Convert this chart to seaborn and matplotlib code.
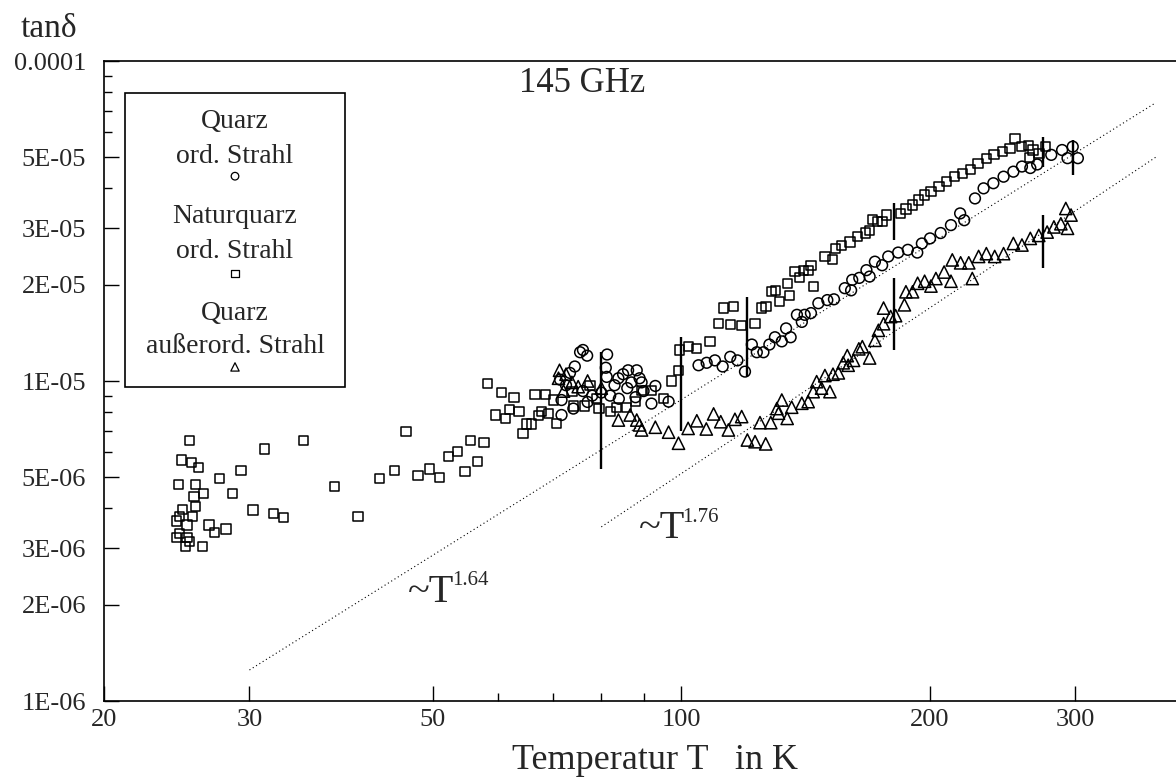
import numpy as np
import seaborn as sns
import matplotlib.pyplot as plt
from matplotlib.ticker import FixedLocator, FixedFormatter, NullFormatter
from matplotlib.patches import Rectangle

# --- Messwerte tan(delta) in Einheiten von 1E-06, T in K ---

# Quarz, ordentlicher Strahl (Kreise)
quarz_T = [75.4, 76.0, 76.9, 81.3, 74.3, 73.3, 81.0, 81.2, 83.9, 86.2,
           88.3, 89.0, 85.0, 83.0, 86.0, 87.0, 89.5, 93.0, 96.5, 71.3,
           72.5, 71.6, 71.6, 76.0, 78.0, 80.0, 82.0, 77.0, 84.0, 88.0,
           90.0, 74.0, 92.0,
           104.9, 107.3, 109.8, 112.2, 114.6, 116.9, 119.4, 121.7, 123.4, 125.7,
           127.8, 129.8, 132.3, 133.9, 135.6, 139.9, 138.0, 141.0, 143.5, 146.5,
           150.2, 153.0, 157.7, 160.5, 161.0, 164.2, 167.5, 169.0, 171.5, 175.0,
           178.0, 183.0, 188.0, 193.0, 195.5, 200.0, 206.0, 212.0, 217.5, 220.0,
           226.7, 232.2, 238.6, 245.5, 252.3, 258.4, 264.5, 269.6, 280.4, 289.0,
           293.4, 297.7, 302.0]
quarz_tan = [12.3, 12.5, 12.0, 12.1, 11.1, 10.6, 11.0, 10.3, 10.2, 10.8,
             10.8, 10.2, 10.5, 9.7, 9.5, 9.9, 9.9, 9.65, 8.62, 10.1,
             9.7, 8.72, 7.83, 9.3, 9.0, 9.2, 9.0, 8.6, 8.8, 8.9,
             9.3, 8.2, 8.5,
             11.2, 11.4, 11.6, 11.1, 11.9, 11.6, 10.7, 13.0, 12.3, 12.3,
             13.0, 13.7, 13.3, 14.6, 13.7, 15.3, 16.1, 16.1, 16.3, 17.5,
             17.9, 18.0, 19.5, 19.2, 20.7, 21.0, 22.2, 21.2, 23.6, 23.0,
             24.5, 25.2, 25.7, 25.2, 26.9, 27.9, 29.0, 30.7, 33.4, 31.8,
             37.2, 40.0, 41.5, 43.5, 45.1, 46.8, 46.3, 47.5, 50.9, 52.7,
             49.7, 54.0, 49.7]

# Naturquarz, ordentlicher Strahl (Quadrate)
natur_T = [25.4, 24.8, 25.5, 26.0, 24.6, 25.8, 27.6, 29.3, 31.3, 34.9,
           25.7, 26.4, 28.6, 38.0, 43.1, 44.9, 24.9, 25.8, 24.7, 25.6,
           24.5, 25.2, 26.8, 27.2, 28.1, 30.3, 32.1, 33.0, 40.6, 24.7,
           24.5, 25.2, 25.4, 25.1, 26.3,
           46.4, 48.0, 49.5, 51.0, 52.3, 53.6, 54.7, 55.6, 56.7, 57.7, 58.3,
           59.5, 60.6, 61.2, 62.0, 62.7, 63.6, 64.3, 65.0, 65.8, 66.5, 67.1, 67.7, 68.4, 69.0, 70.0, 70.6,
           73.7, 74.0, 76.4, 77.5, 79.0, 79.5, 82.0, 83.5, 85.9, 87.9, 89.5, 92.1, 95.1, 97.3, 99.2, 99.5,
           101.9, 104.4, 108.3, 110.8, 114.6, 118.3, 122.8, 112.4, 115.6, 125.1, 126.6, 128.6, 130.0, 131.5,
           134.4, 135.3, 137.3, 138.9, 140.5, 142.6, 144.5, 143.5, 149.2, 152.5, 153.8, 156.4, 160.0, 163.4,
           167.0, 169.0, 170.5, 172.8, 175.0, 177.0, 184.0, 187.0, 190.3, 193.6, 197.0, 200.5, 205.0, 209.5,
           214.0, 219.0, 224.0, 228.6, 234.0, 239.0, 244.5, 250.0, 253.5, 258.0, 263.0, 266.5, 271.0, 276.0, 264.0]
natur_tan = [6.5, 5.66, 5.55, 5.37, 4.75, 4.75, 4.97, 5.25, 6.13, 6.5,
             4.35, 4.46, 4.46, 4.67, 4.97, 5.26, 3.97, 4.05, 3.77, 3.77,
             3.65, 3.55, 3.55, 3.36, 3.45, 3.95, 3.85, 3.75, 3.77, 3.34,
             3.25, 3.25, 3.15, 3.04, 3.04,
             6.95, 5.08, 5.31, 5.0, 5.8, 6.01, 5.21, 6.51, 5.6, 6.42, 9.8,
             7.83, 9.2, 7.64, 8.16, 8.87, 8.05, 6.86, 7.34, 7.34, 9.1, 7.8, 8.05, 9.1, 7.93, 8.72, 7.38,
             9.26, 8.35, 8.35, 9.7, 8.83, 8.2, 8.02, 8.28, 8.28, 8.62, 9.33, 9.33, 8.83, 10.0, 10.8, 12.5,
             12.8, 12.6, 13.3, 15.1, 15.0, 14.9, 15.1, 16.9, 17.1, 16.9, 17.1, 19.0, 19.2, 17.7,
             20.2, 18.5, 22.0, 21.0, 22.2, 22.2, 19.7, 23.0, 24.5, 24.0, 26.0, 26.5, 27.2, 28.3,
             29.0, 29.6, 31.9, 31.5, 31.5, 33.0, 33.4, 34.5, 35.5, 36.8, 38.1, 39.0, 40.5, 42.0,
             43.5, 44.5, 45.7, 47.9, 49.7, 51.0, 52.1, 53.3, 57.3, 54.0, 54.5, 52.7, 51.5, 54.0, 50.0]

# Quarz, ausserordentlicher Strahl (Dreiecke)
ext_T = [71.2, 71.0, 72.5, 73.7, 72.0, 75.0, 77.0, 80.0, 83.9, 86.7,
         88.3, 89.0, 89.5, 93.0, 96.5, 99.2, 101.9, 104.4, 107.2, 109.4,
         111.6, 114.0, 116.1, 118.3, 120.2, 122.8, 126.5, 124.5, 128.3, 131.1,
         132.3, 130.5, 134.3, 136.0, 139.9, 142.4, 144.4, 145.8, 147.8, 151.3,
         149.2, 152.6, 154.9, 157.0, 158.8, 159.2, 161.6, 164.0, 165.6, 169.0,
         171.5, 173.2, 175.7, 175.7, 179.2, 181.7, 186.2, 187.0, 190.5, 193.2,
         197.0, 200.5, 203.3, 208.0, 212.8, 212.0, 217.8, 222.8, 225.0, 229.0,
         234.0, 239.5, 245.5, 252.3, 258.4, 264.5, 270.8, 277.2, 282.5, 288.0,
         292.0, 296.3, 293.4]
ext_tan = [10.8, 10.2, 10.5, 9.9, 9.3, 9.6, 10.0, 9.5, 7.55, 7.83,
           7.55, 7.29, 7.03, 7.17, 6.92, 6.39, 7.11, 7.51, 7.08, 7.89,
           7.46, 7.03, 7.59, 7.74, 6.54, 6.46, 6.36, 7.41, 7.41, 7.93,
           8.72, 8.2, 7.64, 8.28, 8.52, 8.62, 9.26, 9.95, 9.5, 9.26,
           10.4, 10.5, 10.6, 11.4, 12.0, 11.2, 11.6, 12.6, 12.8, 11.8,
           13.4, 14.4, 16.9, 15.1, 15.9, 16.0, 17.3, 19.0, 19.0, 20.2,
           20.5, 19.8, 20.9, 21.9, 23.9, 20.5, 23.4, 23.4, 20.9, 24.5,
           25.0, 24.5, 25.0, 26.9, 26.6, 27.9, 28.5, 29.2, 30.3, 31.0,
           34.6, 33.0, 30.0]

# Fehlerbalken (senkrechte Striche)
bar_T = [80, 100, 120, 181, 181, 274, 274, 298]
bar_lo = [5.3, 7.0, 10.4, 27.6, 12.5, 46.8, 22.5, 44.0]
bar_hi = [12.3, 13.7, 18.3, 35.9, 21.0, 58.0, 33.0, 56.7]

# Potenzgesetz-Geraden
fit164_T = [30, 375]
fit164_tan = [1.25, 74.0]
fit176_T = [80, 375]
fit176_tan = [3.5, 50.0]

x_ticks = [20, 30, 50, 100, 200, 300]
x_labels = ["20", "30", "50", "100", "200", "300"]
x_minor = [60, 70, 80, 90]
y_ticks = [1e-6, 2e-6, 3e-6, 5e-6, 1e-5, 2e-5, 3e-5, 5e-5, 1e-4]
y_labels = ["1E-06", "2E-06", "3E-06", "5E-06", "1E-05", "2E-05", "3E-05", "5E-05", "0.0001"]
y_minor = [4e-6, 6e-6, 7e-6, 8e-6, 9e-6, 4e-5, 6e-5, 7e-5, 8e-5, 9e-5]

sns.set_style("white")
plt.rcParams["font.family"] = ["Liberation Serif", "DejaVu Serif"]
plt.rcParams["axes.linewidth"] = 1.2

fig, ax = plt.subplots(figsize=(11.76, 7.8), dpi=100)
fig.subplots_adjust(left=104 / 1176, right=1.0, bottom=1 - 701 / 780, top=1 - 61 / 780)

E6 = 1e-6
mk = dict(facecolor="none", edgecolor="black", linewidth=1.1, ax=ax, legend=False)
sns.scatterplot(x=natur_T, y=np.array(natur_tan) * E6, marker="s", s=44, **mk)
sns.scatterplot(x=quarz_T, y=np.array(quarz_tan) * E6, marker="o", s=60, **mk)
sns.scatterplot(x=ext_T, y=np.array(ext_tan) * E6, marker="^", s=78, **mk)

ax.vlines(bar_T, np.array(bar_lo) * E6, np.array(bar_hi) * E6, color="black", lw=1.7)

sns.lineplot(x=fit164_T, y=np.array(fit164_tan) * E6, color="black", lw=0.8,
             linestyle=(0, (1, 2.5)), ax=ax)
sns.lineplot(x=fit176_T, y=np.array(fit176_tan) * E6, color="black", lw=0.8,
             linestyle=(0, (1, 2.5)), ax=ax)

ax.set_xscale("log")
ax.set_yscale("log")
ax.set_xlim(20, 397)
ax.set_ylim(1e-6, 1e-4)

ax.xaxis.set_major_locator(FixedLocator(x_ticks))
ax.xaxis.set_major_formatter(FixedFormatter(x_labels))
ax.xaxis.set_minor_locator(FixedLocator(x_minor))
ax.xaxis.set_minor_formatter(NullFormatter())
ax.yaxis.set_major_locator(FixedLocator(y_ticks))
ax.yaxis.set_major_formatter(FixedFormatter(y_labels))
ax.yaxis.set_minor_locator(FixedLocator(y_minor))
ax.yaxis.set_minor_formatter(NullFormatter())

ax.tick_params(which="both", direction="in", width=1.0, color="black",
               bottom=True, left=True, top=False, right=False)
ax.tick_params(which="major", length=11)
ax.tick_params(which="minor", length=6)
ax.tick_params(axis="y", labelsize=19, pad=13)
ax.tick_params(axis="x", labelsize=19, pad=6)
ax.spines["right"].set_visible(False)
for s in ["left", "bottom", "top"]:
    ax.spines[s].set_color("black")

ax.set_xlabel("Temperatur T   in K", fontsize=26)
ax.xaxis.label.set_va("baseline")
ax.xaxis.set_label_coords((655 - 104) / 1072, (701 - 769) / 640)
ax.set_ylabel("tanδ", fontsize=24, rotation=0)
ax.yaxis.label.set_va("baseline")
ax.yaxis.label.set_ha("center")
ax.yaxis.set_label_coords((49 - 104) / 1072, (701 - 37) / 640)

ax.text((582 - 104) / 1072, (701 - 84) / 640, "145 GHz", transform=ax.transAxes,
        fontsize=25, ha="center", va="center")

# Beschriftung der Geraden
ax.text(46.7, 2.04e-6, "~T", fontsize=29, ha="left", va="baseline")
ax.text(52.8, 2.3e-6, "1.64", fontsize=15, ha="left", va="baseline")
ax.text(88.9, 3.23e-6, "~T", fontsize=29, ha="left", va="baseline")
ax.text(100.2, 3.63e-6, "1.76", fontsize=15, ha="left", va="baseline")

# Legende (Text ueber dem Symbol)
ax.add_patch(Rectangle((0.0196, 0.4906), 0.2052, 0.4594, transform=ax.transAxes,
                       fill=False, lw=1.2, edgecolor="black"))
lx = 0.1222
leg_fs = 20
ax.text(lx, 0.905, "Quarz", transform=ax.transAxes, ha="center", va="center", fontsize=leg_fs)
ax.text(lx, 0.851, "ord. Strahl", transform=ax.transAxes, ha="center", va="center", fontsize=leg_fs)
ax.scatter([lx], [0.820], transform=ax.transAxes, marker="o", s=30, facecolor="none",
           edgecolor="black", linewidth=0.9)
ax.text(lx, 0.757, "Naturquarz", transform=ax.transAxes, ha="center", va="center", fontsize=leg_fs)
ax.text(lx, 0.703, "ord. Strahl", transform=ax.transAxes, ha="center", va="center", fontsize=leg_fs)
ax.scatter([lx], [0.668], transform=ax.transAxes, marker="s", s=28, facecolor="none",
           edgecolor="black", linewidth=0.9)
ax.text(lx, 0.606, "Quarz", transform=ax.transAxes, ha="center", va="center", fontsize=leg_fs)
ax.text(lx, 0.554, "außerord. Strahl", transform=ax.transAxes, ha="center", va="center", fontsize=leg_fs)
ax.scatter([lx], [0.522], transform=ax.transAxes, marker="^", s=36, facecolor="none",
           edgecolor="black", linewidth=0.9)

fig.savefig("out.png", dpi=100)
